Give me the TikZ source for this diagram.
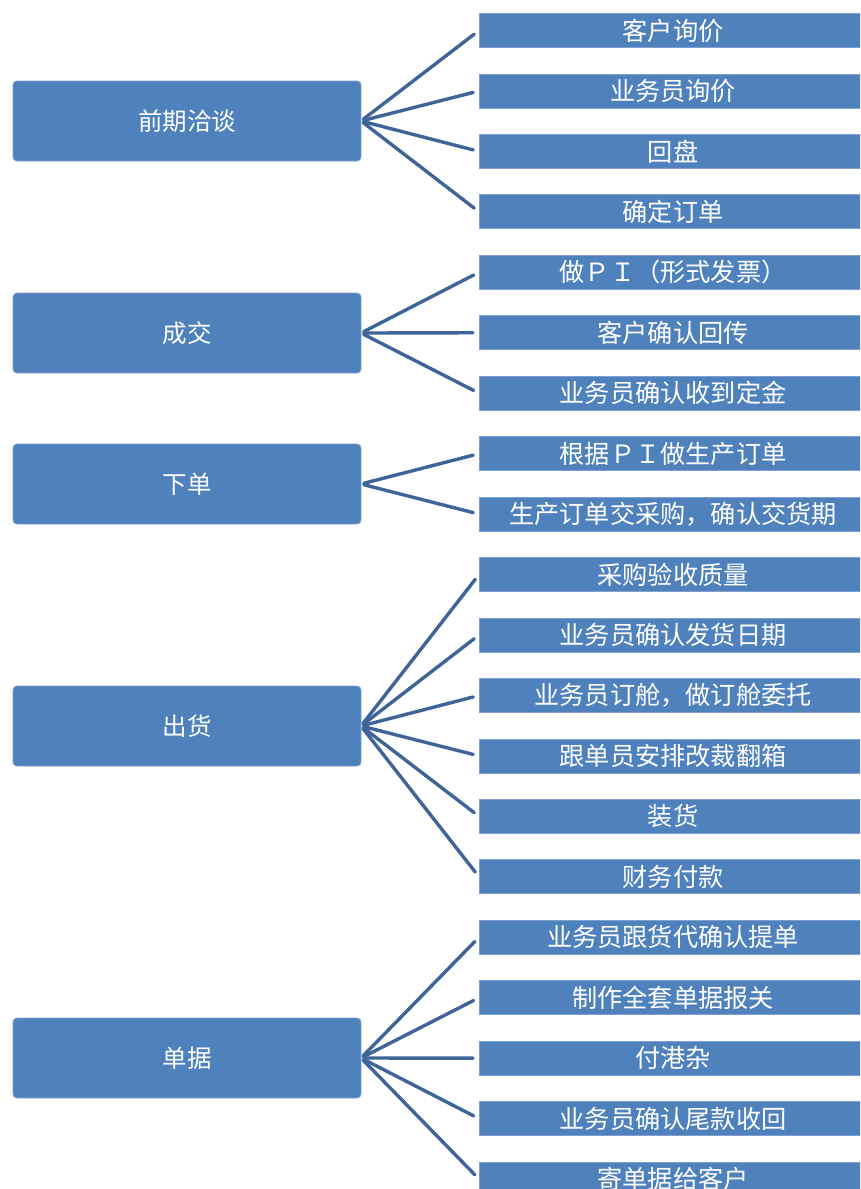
\documentclass[tikz,border=0pt]{standalone}
\usepackage{fontspec}
\usepackage{xcolor}
\usepackage{tikz}
\usetikzlibrary{positioning}
\newfontfamily\cjk{Noto Sans CJK SC}
\definecolor{boxblue}{RGB}{79,129,189}
\definecolor{boxedge}{RGB}{125,160,208}
\definecolor{linkblue}{RGB}{62,100,152}
\tikzset{
  catbox/.style={rectangle, draw=boxedge, fill=boxblue,
    minimum width=348pt, minimum height=80pt, inner sep=0pt, outer sep=0pt,
    text=white, font=\cjk\fontsize{24.5}{28}\selectfont, rounded corners=4pt, line width=0.8pt},
  stepbox/.style={rectangle, draw=boxedge, fill=boxblue,
    minimum width=388pt, minimum height=34pt, inner sep=0pt, outer sep=0pt,
    text=white, font=\cjk\fontsize{25.2}{28}\selectfont, line width=0.8pt},
  link/.style={line width=3.4pt, color=linkblue, line cap=round,
    shorten <=3pt, shorten >=6pt}
}

\begin{document}
\begin{tikzpicture}[x=1pt, y=-1pt, node distance=26.45pt]
  \fill[white] (0,0) rectangle (860,1189);
  \useasboundingbox (0,0) rectangle (860,1189);
  \clip (0,0) rectangle (860,1189);

  % Nodes
  \node[catbox] (pre) at (187,121) {前期洽谈};
  \node[catbox] (deal) at (187,333) {成交};
  \node[catbox] (order) at (187,484) {下单};
  \node[catbox] (ship) at (187,726) {出货};
  \node[catbox] (docs) at (187,1058) {单据};

  \node[stepbox] (s1) at (673,30.5) {客户询价};
  \node[stepbox, below=of s1] (s2) {业务员询价};
  \node[stepbox, below=of s2] (s3) {回盘};
  \node[stepbox, below=of s3] (s4) {确定订单};
  \node[stepbox, below=of s4] (s5) {做ＰＩ（形式发票）};
  \node[stepbox, below=of s5] (s6) {客户确认回传};
  \node[stepbox, below=of s6] (s7) {业务员确认收到定金};
  \node[stepbox, below=of s7] (s8) {根据ＰＩ做生产订单};
  \node[stepbox, below=of s8] (s9) {生产订单交采购，确认交货期};
  \node[stepbox, below=of s9] (s10) {采购验收质量};
  \node[stepbox, below=of s10] (s11) {业务员确认发货日期};
  \node[stepbox, below=of s11] (s12) {业务员订舱，做订舱委托};
  \node[stepbox, below=of s12] (s13) {跟单员安排改裁翻箱};
  \node[stepbox, below=of s13] (s14) {装货};
  \node[stepbox, below=of s14] (s15) {财务付款};
  \node[stepbox, below=of s15] (s16) {业务员跟货代确认提单};
  \node[stepbox, below=of s16] (s17) {制作全套单据报关};
  \node[stepbox, below=of s17] (s18) {付港杂};
  \node[stepbox, below=of s18] (s19) {业务员确认尾款收回};
  \node[stepbox, below=of s19] (s20) {寄单据给客户};

  % Links
  \draw[link] (pre.east) -- (s1.west);
  \draw[link] (pre.east) -- (s2.west);
  \draw[link] (pre.east) -- (s3.west);
  \draw[link] (pre.east) -- (s4.west);
  \draw[link] (deal.east) -- (s5.west);
  \draw[link] (deal.east) -- (s6.west);
  \draw[link] (deal.east) -- (s7.west);
  \draw[link] (order.east) -- (s8.west);
  \draw[link] (order.east) -- (s9.west);
  \draw[link] (ship.east) -- (s10.west);
  \draw[link] (ship.east) -- (s11.west);
  \draw[link] (ship.east) -- (s12.west);
  \draw[link] (ship.east) -- (s13.west);
  \draw[link] (ship.east) -- (s14.west);
  \draw[link] (ship.east) -- (s15.west);
  \draw[link] (docs.east) -- (s16.west);
  \draw[link] (docs.east) -- (s17.west);
  \draw[link] (docs.east) -- (s18.west);
  \draw[link] (docs.east) -- (s19.west);
  \draw[link] (docs.east) -- (s20.west);
\end{tikzpicture}
\end{document}
